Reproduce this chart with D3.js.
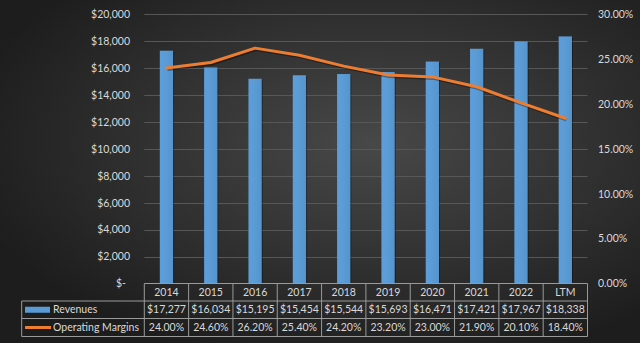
<!DOCTYPE html>
<html><head><meta charset="utf-8">
<script src="https://cdn.jsdelivr.net/npm/d3@7"></script>
<style>html,body{margin:0;padding:0;background:#2a2a2a;overflow:hidden}</style>
</head><body>
<svg id="c" width="640" height="343"></svg>
<script>
const categories = ["2014","2015","2016","2017","2018","2019","2020","2021","2022","LTM"];
const revenues = [17277,16034,15195,15454,15544,15693,16471,17421,17967,18338];
const margins = [24.0,24.6,26.2,25.4,24.2,23.2,23.0,21.9,20.1,18.4];
const leftTicks = [0,2000,4000,6000,8000,10000,12000,14000,16000,18000,20000];
const rightTicks = [0,5,10,15,20,25,30];
const seriesNames = ["Revenues","Operating Margins"];

const W=640,H=343;
const svg=d3.select("#c");
const defs=svg.append("defs");
const rg=defs.append("radialGradient").attr("id","bg").attr("cx","58%").attr("cy","42%").attr("r","65%");
rg.append("stop").attr("offset","0%").attr("stop-color","#484848");
rg.append("stop").attr("offset","100%").attr("stop-color","#1d1d1d");
svg.append("rect").attr("width",W).attr("height",H).attr("fill","url(#bg)");
const bg2=defs.append("linearGradient").attr("id","bar").attr("x1","0").attr("x2","1");
bg2.append("stop").attr("offset","0").attr("stop-color","#5d9edb");
bg2.append("stop").attr("offset","0.5").attr("stop-color","#5b9bd5");
bg2.append("stop").attr("offset","1").attr("stop-color","#5594cc");

const font="Lato, 'Open Sans', sans-serif";
const txt="#d9d9d9";
const x0=144.3,x1=587.5,yTop=14,yBot=283.5;
const x=d3.scaleBand().domain(categories).range([x0,x1]).padding(0);
const yL=d3.scaleLinear().domain([0,20000]).range([yBot,yTop]);
const yR=d3.scaleLinear().domain([0,30]).range([yBot,yTop]);

// gridlines
svg.append("g").selectAll("line").data(leftTicks.filter(d=>d>0)).join("line")
 .attr("x1",x0).attr("x2",x1).attr("y1",d=>Math.round(yL(d))+0.5).attr("y2",d=>Math.round(yL(d))+0.5)
 .attr("stroke","#575757").attr("stroke-width",1);

// left axis
const fmtL=d=>d===0?"$-":"$"+d3.format(",")(d);
const gL=svg.append("g").attr("transform",`translate(130,0)`)
 .call(d3.axisLeft(yL).tickValues(leftTicks).tickFormat(fmtL).tickSize(0).tickPadding(0));
gL.select(".domain").remove();
gL.selectAll("text").attr("fill",txt).style("font-family",font).style("font-size","10.5px")
 .attr("dx",d=>d===0?"-4":"0");

// right axis
const gR=svg.append("g").attr("transform",`translate(598,0)`)
 .call(d3.axisRight(yR).tickValues(rightTicks).tickFormat(d=>d.toFixed(2)+"%").tickSize(0).tickPadding(0));
gR.select(".domain").remove();
gR.selectAll("text").attr("fill",txt).style("font-family",font).style("font-size","10.5px");

// bars
const bw=x.bandwidth()*0.3;
svg.append("g").selectAll("rect").data(categories).join("rect")
 .attr("x",d=>x(d)+x.bandwidth()/2-bw/2+1).attr("y",(d,i)=>yL(revenues[i])+1)
 .attr("width",bw).attr("height",(d,i)=>yBot-yL(revenues[i])-1).attr("fill","rgba(0,0,0,0.35)");
svg.append("g").selectAll("rect").data(categories).join("rect")
 .attr("x",d=>x(d)+x.bandwidth()/2-bw/2).attr("y",(d,i)=>yL(revenues[i]))
 .attr("width",bw).attr("height",(d,i)=>yBot-yL(revenues[i])).attr("fill","url(#bar)");

// line
const line=d3.line().x((d,i)=>x(categories[i])+x.bandwidth()/2).y(d=>yR(d));
svg.append("path").datum(margins).attr("d",line).attr("fill","none")
 .attr("stroke","rgba(0,0,0,0.35)").attr("stroke-width",3).attr("transform","translate(1,1.5)").attr("stroke-linejoin","round");
svg.append("path").datum(margins).attr("d",line).attr("fill","none")
 .attr("stroke","#ed7d31").attr("stroke-width",3).attr("stroke-linejoin","round").attr("stroke-linecap","round");

// table
const rows=[yBot,301,318.5,336.5];
const tx0=21.7;
const tb="#9a9a9a";
const tg=svg.append("g");
// horizontal lines
tg.append("line").attr("x1",x0).attr("x2",x1).attr("y1",rows[0]).attr("y2",rows[0]).attr("stroke",tb);
[1,2,3].forEach(r=>tg.append("line").attr("x1",tx0).attr("x2",x1).attr("y1",rows[r]).attr("y2",rows[r]).attr("stroke",tb));
// vertical lines
const colEdges=categories.map(c=>x(c)).concat([x1]);
tg.selectAll("line.v").data(colEdges).join("line").attr("class","v")
 .attr("x1",d=>d).attr("x2",d=>d).attr("y1",rows[0]).attr("y2",rows[3]).attr("stroke",tb);
tg.append("line").attr("x1",tx0).attr("x2",tx0).attr("y1",rows[1]).attr("y2",rows[3]).attr("stroke",tb);

const cellText=(row,vals)=>tg.append("g").selectAll("text").data(categories).join("text")
 .attr("x",d=>x(d)+x.bandwidth()/2).attr("y",(rows[row]+rows[row+1])/2).attr("dy","0.35em")
 .attr("text-anchor","middle").attr("fill",txt).style("font-family",font).style("font-size","10.5px")
 .text((d,i)=>vals[i]);
cellText(0,categories);
cellText(1,revenues.map(v=>"$"+d3.format(",")(v)));
cellText(2,margins.map(v=>v.toFixed(2)+"%"));

// legend keys
tg.append("rect").attr("x",25).attr("y",(rows[1]+rows[2])/2-3).attr("width",25).attr("height",6).attr("fill","#5b9bd5");
tg.append("line").attr("x1",25).attr("x2",51).attr("y1",(rows[2]+rows[3])/2).attr("y2",(rows[2]+rows[3])/2)
 .attr("stroke","#ed7d31").attr("stroke-width",3);
seriesNames.forEach((n,i)=>tg.append("text").attr("x",53).attr("y",(rows[i+1]+rows[i+2])/2).attr("dy","0.35em")
 .attr("fill",txt).style("font-family",font).style("font-size","10.5px").text(n));
</script>
</body></html>
